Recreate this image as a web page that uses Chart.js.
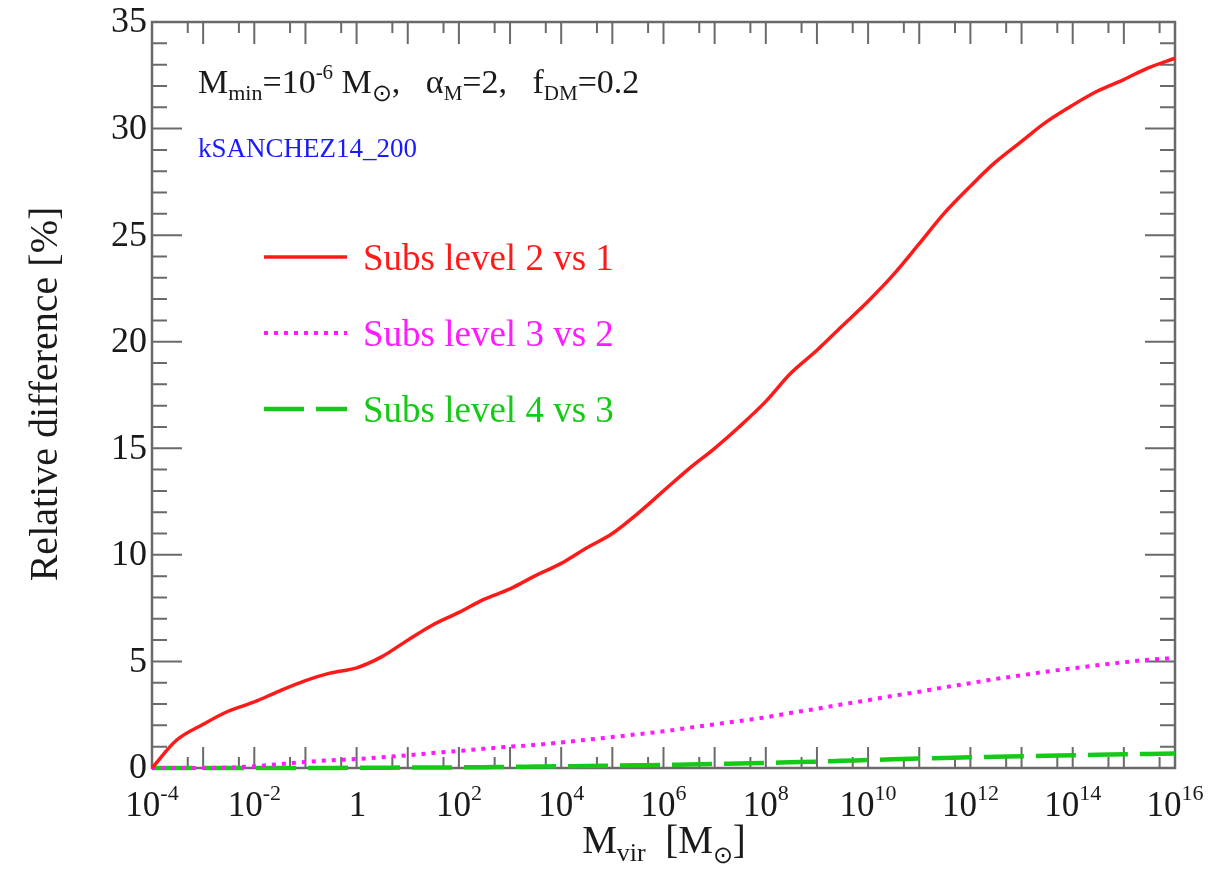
<!DOCTYPE html>
<html>
<head>
<meta charset="utf-8">
<title>Relative difference vs M_vir</title>
<script src="https://cdn.jsdelivr.net/npm/chart.js@4.4.0/dist/chart.umd.min.js"></script>
<style>
  html, body { margin: 0; padding: 0; background: #fff; }
  #wrap { width: 1226px; height: 869px; }
</style>
</head>
<body>
<div id="wrap"><canvas id="grafica" width="1226" height="869"></canvas></div>
<script>
// Masas (M_sun), media década entre puntos
const masas = [
  1e-4, 3e-4, 1e-3, 3e-3, 1e-2, 3e-2, 1e-1, 3e-1, 1, 3,
  1e1, 3e1, 1e2, 3e2, 1e3, 3e3, 1e4, 3e4, 1e5, 3e5,
  1e6, 3e6, 1e7, 3e7, 1e8, 3e8, 1e9, 3e9, 1e10, 3e10,
  1e11, 3e11, 1e12, 3e12, 1e13, 3e13, 1e14, 3e14, 1e15, 3e15, 1e16
];

// Diferencia relativa [%] para cada par de niveles
const nivel2vs1 = [
  0, 1.3, 2.05, 2.65, 3.1, 3.6, 4.1, 4.45, 4.7, 5.2,
  6.0, 6.7, 7.3, 7.9, 8.4, 9.0, 9.6, 10.3, 11.0, 11.9,
  13.0, 14.0, 15.0, 16.0, 17.2, 18.5, 19.6, 20.7, 21.9, 23.1,
  24.6, 26.0, 27.3, 28.4, 29.4, 30.3, 31.1, 31.75, 32.3, 32.85, 33.3
];
const nivel3vs2 = [
  0, 0, 0, 0.02, 0.08, 0.18, 0.28, 0.36, 0.42, 0.5,
  0.6, 0.7, 0.8, 0.9, 1.0, 1.08, 1.2, 1.32, 1.45, 1.58,
  1.72, 1.88, 2.05, 2.2, 2.38, 2.58, 2.78, 2.98, 3.18, 3.38,
  3.58, 3.78, 3.98, 4.17, 4.35, 4.52, 4.68, 4.82, 4.96, 5.08, 5.16
];
const nivel4vs3 = [
  0, 0, 0, 0, 0, 0, 0, 0.005, 0.01, 0.015,
  0.02, 0.025, 0.03, 0.04, 0.05, 0.065, 0.08, 0.095, 0.11, 0.125,
  0.14, 0.165, 0.19, 0.215, 0.24, 0.27, 0.3, 0.335, 0.37, 0.405,
  0.44, 0.47, 0.5, 0.525, 0.55, 0.575, 0.6, 0.62, 0.64, 0.66, 0.68
];

const nombresSeries = ["Subs level 2 vs 1", "Subs level 3 vs 2", "Subs level 4 vs 3"];

// Ticks de los ejes
const xExponentes = [-4, -3, -2, -1, 0, 1, 2, 3, 4, 5, 6, 7, 8, 9, 10, 11, 12, 13, 14, 15, 16];
const xEtiquetasExp = [-4, -2, 0, 2, 4, 6, 8, 10, 12, 14, 16];
const yEtiquetas = [0, 5, 10, 15, 20, 25, 30, 35];
const yMenores = [1, 2, 3, 4, 6, 7, 8, 9, 11, 12, 13, 14, 16, 17, 18, 19, 21, 22, 23, 24, 26, 27, 28, 29, 31, 32, 33, 34];

const SERIF = '"Liberation Serif", "Times New Roman", serif';
const COLOR_EJE = "#6a6a6a";
const COLOR_TEXTO = "#1a1a1a";

function puntos(valores) {
  return masas.map((m, i) => ({ x: m, y: valores[i] }));
}

// Dibuja un texto con tramos de distinto tamaño (sub/superíndices)
function textoMixto(ctx, tramos, x, y, align) {
  let total = 0;
  tramos.forEach((t) => {
    ctx.font = t[1] + "px " + SERIF;
    total += ctx.measureText(t[0]).width;
  });
  let cx = x;
  if (align === "center") cx = x - total / 2;
  if (align === "right") cx = x - total;
  ctx.textAlign = "left";
  tramos.forEach((t) => {
    ctx.font = t[1] + "px " + SERIF;
    ctx.fillText(t[0], cx, y + (t[2] || 0));
    cx += ctx.measureText(t[0]).width;
  });
}

// Marco con ticks hacia adentro, etiquetas y títulos
const marcoEjes = {
  id: "marcoEjes",
  beforeDatasetsDraw(chart) {
    const { ctx, chartArea: a, scales } = chart;
    const sx = scales.x, sy = scales.y;
    ctx.save();
    ctx.strokeStyle = COLOR_EJE;
    ctx.lineWidth = 2;
    ctx.beginPath();
    xExponentes.forEach((e) => {
      const px = sx.getPixelForValue(Math.pow(10, e));
      ctx.moveTo(px, a.bottom); ctx.lineTo(px, a.bottom - 21);
      ctx.moveTo(px, a.top); ctx.lineTo(px, a.top + 22);
      if (e < 16) {
        const pm = sx.getPixelForValue(5 * Math.pow(10, e));
        ctx.moveTo(pm, a.bottom); ctx.lineTo(pm, a.bottom - 11);
        ctx.moveTo(pm, a.top); ctx.lineTo(pm, a.top + 11);
      }
    });
    yEtiquetas.forEach((v) => {
      const py = sy.getPixelForValue(v);
      ctx.moveTo(a.left, py); ctx.lineTo(a.left + 30, py);
      ctx.moveTo(a.right, py); ctx.lineTo(a.right - 30, py);
    });
    yMenores.forEach((v) => {
      const py = sy.getPixelForValue(v);
      ctx.moveTo(a.left, py); ctx.lineTo(a.left + 15, py);
      ctx.moveTo(a.right, py); ctx.lineTo(a.right - 15, py);
    });
    ctx.stroke();
    ctx.lineWidth = 2.5;
    ctx.strokeRect(a.left, a.top, a.right - a.left, a.bottom - a.top);

    // etiquetas del eje y
    ctx.fillStyle = COLOR_TEXTO;
    ctx.font = "36px " + SERIF;
    ctx.textAlign = "right";
    ctx.textBaseline = "middle";
    yEtiquetas.forEach((v) => {
      ctx.fillText(String(v), a.left - 5, sy.getPixelForValue(v) + 1);
    });

    // etiquetas del eje x
    ctx.textBaseline = "alphabetic";
    xEtiquetasExp.forEach((e) => {
      const px = sx.getPixelForValue(Math.pow(10, e));
      if (e === 0) {
        textoMixto(ctx, [["1", 35]], px + 1, a.bottom + 48, "center");
      } else {
        textoMixto(ctx, [["10", 35], [e < 0 ? "-" + (-e) : String(e), 22, -16]], px, a.bottom + 48, "center");
      }
    });

    // título eje x
    textoMixto(ctx, [["M", 39], ["vir", 26, 8], ["  [M", 39], ["\u2299", 24, 10], ["]", 39]], 664, 853, "center");

    // título eje y
    ctx.save();
    ctx.translate(57, 394);
    ctx.rotate(-Math.PI / 2);
    ctx.font = "40px " + SERIF;
    ctx.textAlign = "center";
    ctx.fillText("Relative difference [%]", 0, 0);
    ctx.restore();

    // anotaciones
    ctx.fillStyle = COLOR_TEXTO;
    textoMixto(ctx, [
      ["M", 34], ["min", 22, 7], ["=10", 34], ["-6", 21, -14], [" M", 34], ["\u2299", 24, 8],
      [",   \u03b1", 34], ["M", 21, 7], ["=2,   f", 34], ["DM", 21, 7], ["=0.2", 34]
    ], 198, 93, "left");
    ctx.fillStyle = "#1a1aff";
    textoMixto(ctx, [["kSANCHEZ14_200", 27]], 198, 157, "left");

    // leyenda
    const filasY = [257, 333, 409];
    chart.data.datasets.forEach((ds, i) => {
      const y = filasY[i];
      ctx.strokeStyle = ds.borderColor;
      ctx.lineWidth = ds.borderWidth;
      ctx.setLineDash(ds.borderDash || []);
      ctx.beginPath();
      ctx.moveTo(264, y);
      ctx.lineTo(347, y);
      ctx.stroke();
      ctx.setLineDash([]);
      ctx.fillStyle = ds.borderColor;
      ctx.font = "37px " + SERIF;
      ctx.textAlign = "left";
      ctx.textBaseline = "middle";
      ctx.fillText(ds.label, 363, y + 3);
    });
    ctx.restore();
  }
};

const ctx = document.getElementById("grafica").getContext("2d");

new Chart(ctx, {
  type: "line",
  data: {
    datasets: [
      {
        label: nombresSeries[0],
        data: puntos(nivel2vs1),
        borderColor: "#ff1a1a",
        borderWidth: 3.5,
        cubicInterpolationMode: "monotone",
        clip: 6,
      },
      {
        label: nombresSeries[1],
        data: puntos(nivel3vs2),
        borderColor: "#ff1aff",
        borderWidth: 4,
        borderDash: [4, 6],
        cubicInterpolationMode: "monotone",
        clip: 6,
      },
      {
        label: nombresSeries[2],
        data: puntos(nivel4vs3),
        borderColor: "#16c916",
        borderWidth: 4.5,
        borderDash: [40, 12],
        cubicInterpolationMode: "monotone",
        clip: 6,
      },
    ],
  },
  options: {
    responsive: false,
    animation: false,
    devicePixelRatio: 1,
    layout: { padding: { left: 152, right: 51, top: 22, bottom: 101 } },
    elements: { point: { radius: 0 } },
    scales: {
      x: { type: "logarithmic", min: 1e-4, max: 1e16, display: false },
      y: { type: "linear", min: 0, max: 35, display: false },
    },
    plugins: {
      legend: { display: false },
      tooltip: { enabled: false },
    },
  },
  plugins: [marcoEjes],
});
</script>
</body>
</html>
